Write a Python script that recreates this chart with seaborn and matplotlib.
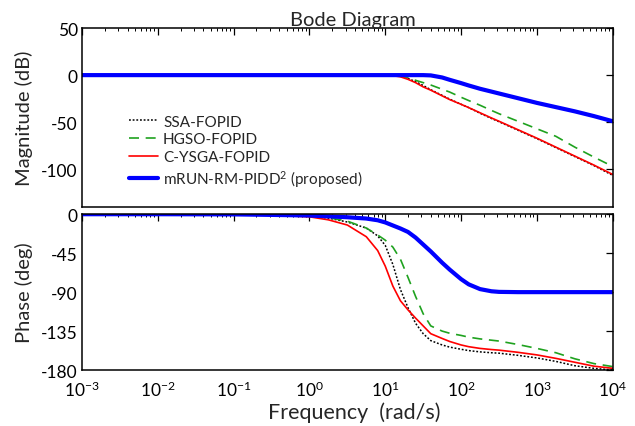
"""Bode diagram: magnitude and phase of four controller designs."""

import matplotlib.pyplot as plt
import matplotlib.ticker as mticker
import numpy as np
import pandas as pd
import seaborn as sns

# frequency grid (rad/s)
FREQ = [1e-3, 1e-2, 1e-1, 0.316, 1.0, 1.778, 3.162, 5.623, 7.943, 10.0, 12.59,
        15.85, 19.95, 25.12, 31.62, 39.81, 56.23, 70.79, 100.0, 125.9, 177.8,
        251.2, 316.2, 562.3, 1000.0, 1778.0, 3162.0, 5623.0, 10000.0]

# magnitude (dB)
MAG_SSA = [0, 0, 0, 0, 0, 0, 0, 0, 0, 0, -0.3, -1.2, -3.5, -7, -11, -15.5,
           -21.5, -25.5, -31, -34.5, -40.5, -46, -49.5, -58.5, -67.5, -77, -86.5, -96, -106.5]
MAG_HGSO = [0, 0, 0, 0, 0, 0, 0, 0, 0, 0, -0.3, -1.2, -3, -5.5, -8, -10.5,
            -15, -18, -23.5, -27, -32, -37.5, -41, -49, -57, -65, -76.5, -87, -97]
MAG_CYSGA = [0, 0, 0, 0, 0, 0, 0, 0, 0, -0.2, -0.6, -1.8, -4.5, -8, -12.5, -16,
             -22, -26, -31, -34.5, -40, -45.5, -49, -58, -67, -76.5, -86, -95.5, -105.5]
MAG_MRUN = [0, 0, 0, 0, 0, 0, 0, 0, 0, 0, 0, 0, 0, 0, 0, -0.3,
            -2.5, -5, -8.5, -11, -14.5, -17.5, -19.5, -24.5, -29.5, -34, -38.5, -43.5, -49]

# phase (deg)
PH_SSA = [0, 0, -0.3, -1, -2.5, -4.5, -9, -16, -25, -36, -58, -87, -108, -126,
          -138, -146, -151, -153.5, -156, -157.5, -159, -160, -160.5, -163, -166,
          -170, -175, -178, -180]
PH_HGSO = [0, 0, -0.3, -0.8, -2, -4, -8, -16, -24, -30, -38, -52, -73, -95,
           -115, -129, -135, -137.5, -140, -142, -144, -145.5, -146.5, -150.5, -155,
           -160, -167, -172.5, -176]
PH_CYSGA = [0, 0, -0.3, -1, -3, -6.5, -12.5, -26, -42, -60, -83, -100, -110.5, -120,
            -129, -138, -143.5, -147, -151, -153, -155, -156.3, -157, -159.5, -162.5,
            -166.5, -171, -175.5, -178]
PH_MRUN = [0, 0, -0.2, -0.8, -1.5, -2.5, -3.5, -5, -7, -9.5, -13, -16.5, -20.5, -27,
           -35, -43, -56, -64, -75, -81, -86.5, -89, -89.7, -90, -90, -90, -90, -90, -90]

XTICKS = [1e-3, 1e-2, 1e-1, 1e0, 1e1, 1e2, 1e3, 1e4]

LABELS = ["SSA-FOPID", "HGSO-FOPID", "C-YSGA-FOPID", "mRUN-RM-PIDD$^2$ (proposed)"]
STYLES = [
    dict(color="black", linestyle=(0, (1.2, 1.2)), linewidth=1.1),
    dict(color="#1fa21f", linestyle=(0, (6, 4)), linewidth=1.2),
    dict(color="red", linestyle="-", linewidth=1.2),
    dict(color="blue", linestyle="-", linewidth=3.0),
]


def style_axis(ax):
    ax.set_xscale("log")
    ax.set_xlim(1e-3, 1e4)
    ax.xaxis.set_major_locator(mticker.FixedLocator(XTICKS))
    ax.xaxis.set_major_formatter(mticker.LogFormatterSciNotation())
    ax.xaxis.set_minor_locator(mticker.LogLocator(base=10, subs=np.arange(2, 10), numticks=20))
    ax.xaxis.set_minor_formatter(mticker.NullFormatter())
    ax.tick_params(which="both", direction="in", top=True, right=True, colors="black")
    ax.tick_params(which="major", length=5, width=0.9, labelsize=12.5, pad=3)
    ax.tick_params(axis="x", which="major", pad=7)
    ax.tick_params(which="minor", length=2.5, width=0.7)
    for s in ax.spines.values():
        s.set_visible(True)
        s.set_color("black")
        s.set_linewidth(1.1)


def main():
    sns.set_style("white")
    plt.rcParams["font.family"] = ["Lato", "DejaVu Sans"]
    plt.rcParams["axes.unicode_minus"] = False
    plt.rcParams["mathtext.fontset"] = "custom"
    plt.rcParams["mathtext.rm"] = "Lato"
    plt.rcParams["mathtext.it"] = "Lato:italic"

    mags = [MAG_SSA, MAG_HGSO, MAG_CYSGA, MAG_MRUN]
    phases = [PH_SSA, PH_HGSO, PH_CYSGA, PH_MRUN]

    fig = plt.figure(figsize=(6.35, 4.27), dpi=100)
    ax_mag = fig.add_axes([0.129, 0.513, 0.836, 0.419])
    ax_ph = fig.add_axes([0.129, 0.131, 0.836, 0.365], sharex=ax_mag)

    for label, mag, ph, st in zip(LABELS, mags, phases, STYLES):
        df = pd.DataFrame({"freq": FREQ, "mag": mag, "phase": ph})
        sns.lineplot(data=df, x="freq", y="mag", ax=ax_mag, label=label, **st)
        sns.lineplot(data=df, x="freq", y="phase", ax=ax_ph, legend=False, **st)

    style_axis(ax_mag)
    style_axis(ax_ph)

    ax_mag.set_ylim(-140, 50)
    ax_mag.set_yticks([50, 0, -50, -100])
    ax_mag.set_xlabel("")
    ax_mag.set_ylabel("Magnitude (dB)", fontsize=14.5, labelpad=6)
    ax_mag.tick_params(labelbottom=False)
    ax_mag.set_title("Bode Diagram", fontsize=14.5, pad=2, x=0.51)

    ax_ph.set_ylim(-180, 0)
    ax_ph.set_yticks([0, -45, -90, -135, -180])
    ax_ph.set_ylabel("Phase (deg)", fontsize=14.5, labelpad=6)
    ax_ph.set_xlabel("Frequency  (rad/s)", fontsize=15.5)
    ax_ph.xaxis.set_label_coords(0.513, -0.2)

    ax_mag.legend(loc="upper left", bbox_to_anchor=(0.078, 0.55), frameon=False,
                  fontsize=11, handlelength=1.9, handletextpad=0.3,
                  labelspacing=0.25, borderaxespad=0)

    fig.align_ylabels([ax_mag, ax_ph])
    fig.savefig("out.png", dpi=100)
    plt.close(fig)


if __name__ == "__main__":
    main()
